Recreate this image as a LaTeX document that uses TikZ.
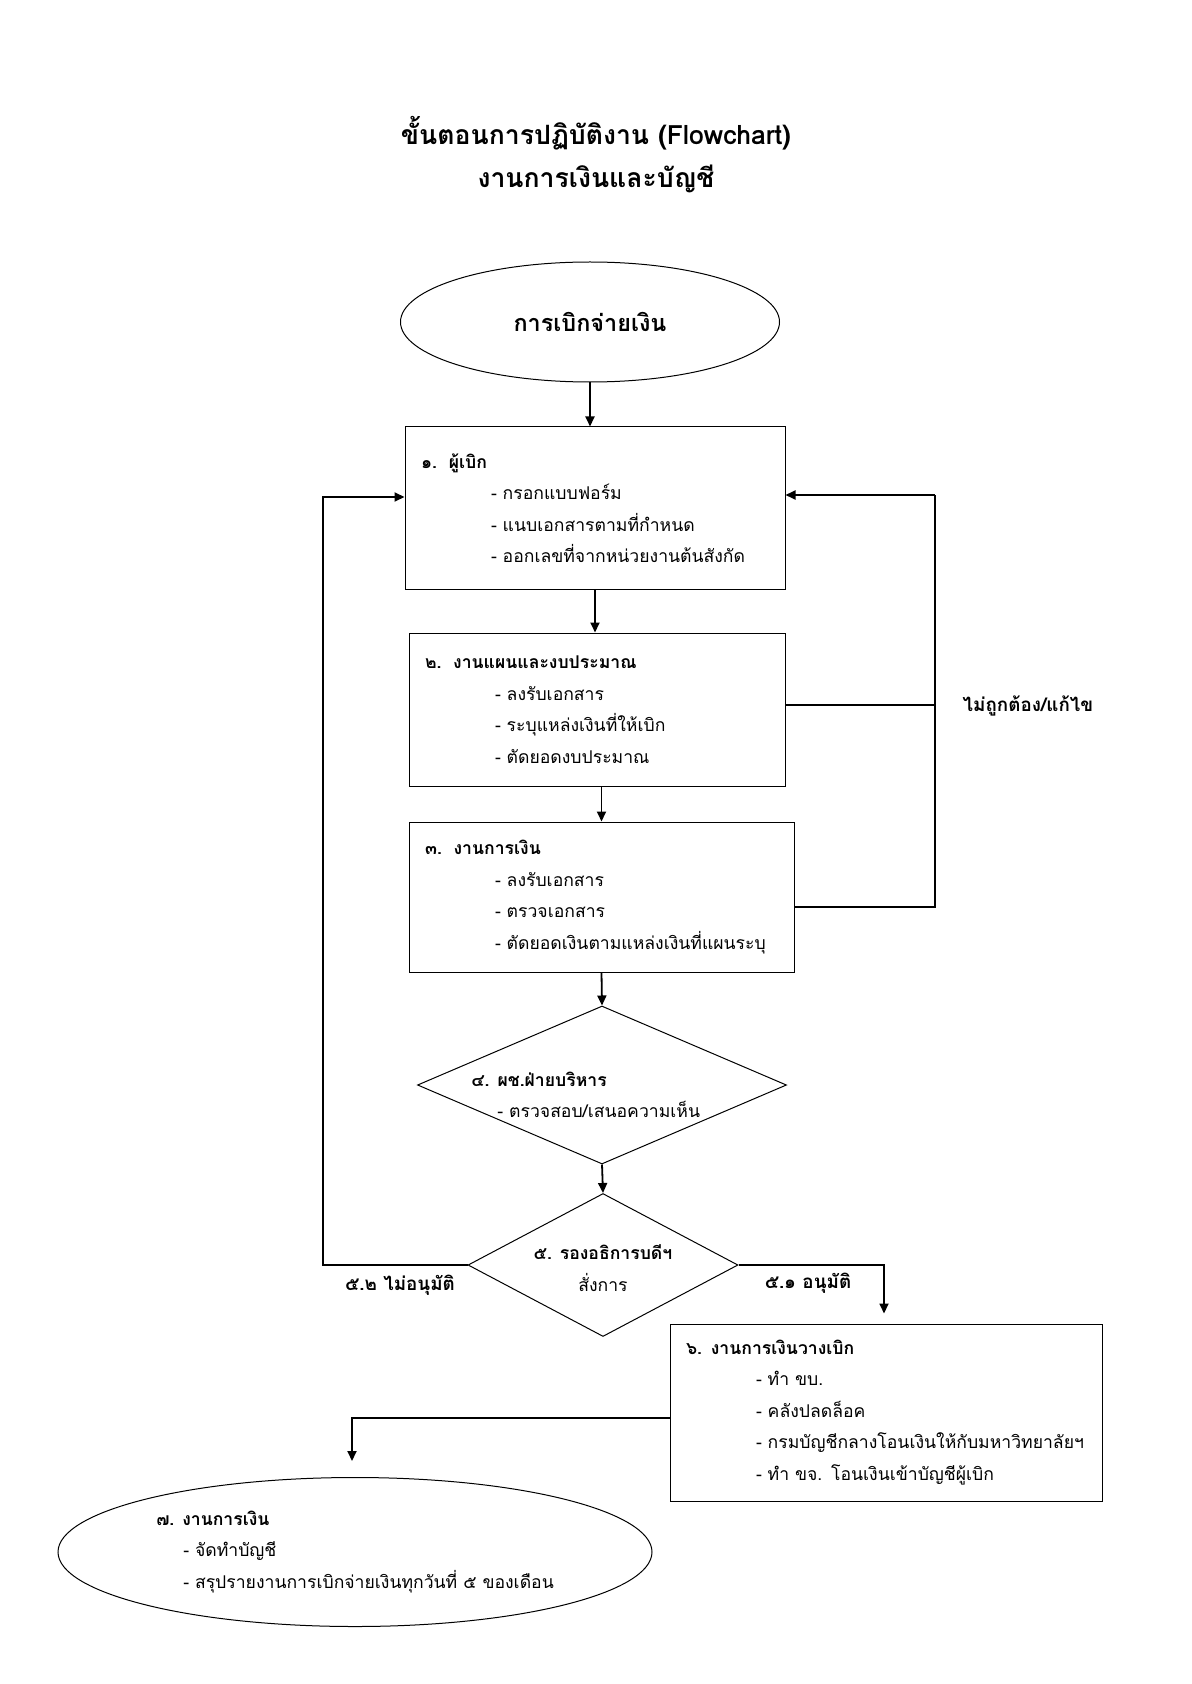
\documentclass[tikz,border=0pt]{standalone}
\usepackage{fontspec}
\setmainfont[Script=Thai]{Loma}
\usetikzlibrary{arrows.meta,shapes.geometric}
\newcommand{\itm}[2][35pt]{\hspace*{#1}\mbox{- #2}}

\begin{document}
\begin{tikzpicture}[x=0.5pt,y=-0.5pt,>={Triangle[length=5pt,width=4.5pt]},
  txt/.style={font=\fontsize{8.8}{15.75}\selectfont},
  box/.style={draw,line width=0.5pt,align=left,inner xsep=8pt,inner ysep=0pt,txt},
  oval/.style={draw,ellipse,line width=0.5pt,inner sep=0pt},
  gate/.style={draw,diamond,line width=0.5pt,inner sep=0pt},
  lbl/.style={font=\bfseries\fontsize{9.4}{15.75}\selectfont,inner sep=0pt},
  flow/.style={->,line width=0.9pt},
  link/.style={line width=0.6pt}]
\useasboundingbox (0,0) rectangle (1191,1684);
\node[align=center,font=\bfseries\fontsize{13.3}{21.5}\selectfont] (title) at (596,155) {ขั้นตอนการปฏิบัติงาน (Flowchart)\\งานการเงินและบัญชี};
\node[oval,minimum width=189.5pt,minimum height=60pt,font=\bfseries\fontsize{11.7}{15}\selectfont] (start) at (590,322) {การเบิกจ่ายเงิน};
% steps
\node[box,text width=174pt,minimum height=81pt] (req) at (595,508) {\textbf{๑.\ \ ผู้เบิก}\\\itm{กรอกแบบฟอร์ม}\\\itm{แนบเอกสารตามที่กำหนด}\\\itm{ออกเลขที่จากหน่วยงานต้นสังกัด}};
\node[box,text width=172pt,minimum height=76.5pt] (plan) at (597,709.5) {\textbf{๒.\ \ งานแผนและงบประมาณ}\\\itm{ลงรับเอกสาร}\\\itm{ระบุแหล่งเงินที่ให้เบิก}\\\itm{ตัดยอดงบประมาณ}};
\node[box,text width=176.5pt,minimum height=75pt] (fin) at (601.5,897) {\textbf{๓.\ \ งานการเงิน}\\\itm{ลงรับเอกสาร}\\\itm{ตรวจเอกสาร}\\\itm{ตัดยอดเงินตามแหล่งเงินที่แผนระบุ}};
\node[gate,minimum width=184.5pt,minimum height=79pt] (check) at (602,1085) {};
\node[txt,align=left,inner sep=0pt,anchor=west] (checktxt) at (471,1095) {\textbf{๔. ผช.ฝ่ายบริหาร}\\\itm[13pt]{ตรวจสอบ/เสนอความเห็น}};
\node[gate,minimum width=135pt,minimum height=71.5pt] (dean) at (603,1265) {};
\node[txt,align=center,inner sep=0pt] (deantxt) at (603,1268) {\textbf{๕. รองอธิการบดีฯ}\\สั่งการ};
\node[box,text width=200pt,minimum height=88.5pt] (pay) at (886,1412.5) {\textbf{๖. งานการเงินวางเบิก}\\\itm{ทำ ขบ.}\\\itm{คลังปลดล็อค}\\\itm{กรมบัญชีกลางโอนเงินให้กับมหาวิทยาลัยฯ}\\\itm{ทำ ขจ. โอนเงินเข้าบัญชีผู้เบิก}};
\node[oval,txt,align=left,minimum width=297pt,minimum height=74.5pt] (acct) at (355,1552) {\textbf{๗. งานการเงิน}\\\itm[13.5pt]{จัดทำบัญชี}\\\itm[13.5pt]{สรุปรายงานการเบิกจ่ายเงินทุกวันที่ ๕ ของเดือน}};
% main flow
\draw[flow] (start.south) -- (start.south |- req.north);
\draw[flow] (req.south) -- (req.south |- plan.north);
\draw[flow] (fin.north |- plan.south) -- (fin.north);
\draw[flow] (fin.south) -- (check.north);
\draw[flow] (check.south) -- (dean.north);
% not approved
\coordinate (backL) at (323,497);
\draw[flow] (dean.west) -| (backL) -- (req.west |- backL);
% incorrect / fix
\coordinate (fixT) at (935,495);
\coordinate (fixM) at (935,705);
\coordinate (fixB) at (935,907);
\draw[link] (plan.east |- fixM) -- (fixM);
\draw[link] (fin.east |- fixB) -- (fixB) -- (fixT);
\draw[flow] (fixT) -- (req.east |- fixT);
% approved
\coordinate (okT) at (884,1264);
\draw[flow,shorten >=5pt] (dean.east) -| (pay.north -| okT);
\coordinate (toAcct) at (352,1418);
\draw[flow,shorten >=8pt] (pay.west |- toAcct) -- (toAcct) -- (toAcct |- acct.north);
% labels
\node[lbl] (fixlbl) at (1028,706) {ไม่ถูกต้อง/แก้ไข};
\node[lbl] (nolbl) at (400,1285) {๕.๒ ไม่อนุมัติ};
\node[lbl] (oklbl) at (808,1283) {๕.๑ อนุมัติ};
\end{tikzpicture}
\end{document}
